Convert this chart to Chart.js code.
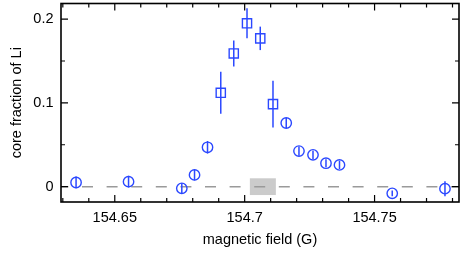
<!DOCTYPE html>
<html>
<head>
<meta charset="utf-8">
<script src="https://cdn.jsdelivr.net/npm/chart.js@4.4.1/dist/chart.umd.min.js"></script>
<style>
  html, body { margin: 0; padding: 0; background: #fff; }
  #c { display: block; }
</style>
</head>
<body>
<canvas id="c" width="463" height="255"></canvas>
<script>
// circles (open) : field, core fraction, error
const circField = [154.6351, 154.6553, 154.6758, 154.6807, 154.6857, 154.7160, 154.7209, 154.7263, 154.7313, 154.7365, 154.7568, 154.7771];
const circFrac  = [0.005, 0.006, -0.002, 0.014, 0.047, 0.076, 0.0425, 0.038, 0.028, 0.026, -0.008, -0.0024];
const circErr   = [0.007, 0.007, 0.006, 0.0065, 0.0075, 0.006, 0.0055, 0.005, 0.0048, 0.005, 0.0035, 0.009];

// squares (open)
const sqField = [154.6908, 154.6958, 154.7009, 154.7060, 154.7109];
const sqFrac  = [0.112, 0.159, 0.195, 0.177, 0.0985];
const sqErr   = [0.025, 0.0155, 0.018, 0.014, 0.028];

// shaded box on the zero line
const boxField = [154.702, 154.712];
const boxFrac  = [-0.01, 0.01];

const xRange = [154.6293, 154.7825];
const yRange = [-0.0183, 0.2186];
const xTicks = [154.65, 154.70, 154.75];
const xMinor = [154.63, 154.64, 154.66, 154.67, 154.68, 154.69, 154.71, 154.72, 154.73, 154.74, 154.76, 154.77, 154.78];
const yTicks = [0, 0.1, 0.2];
const yMinor = [0.05, 0.15];

const blue = '#2b48ff';
const fnt = { family: 'Liberation Sans, Arial, sans-serif', size: 14.5 };

const circData = circField.map((x, i) => ({ x: x, y: circFrac[i], e: circErr[i] }));
const sqData = sqField.map((x, i) => ({ x: x, y: sqFrac[i], e: sqErr[i] }));

const extras = {
  id: 'extras',
  beforeDatasetsDraw(chart) {
    const { ctx, scales: { x, y } } = chart;
    ctx.save();
    ctx.fillStyle = '#cbcbcb';
    const x0 = x.getPixelForValue(boxField[0]), x1 = x.getPixelForValue(boxField[1]);
    const y0 = y.getPixelForValue(boxFrac[1]), y1 = y.getPixelForValue(boxFrac[0]);
    ctx.fillRect(x0, y0, x1 - x0, y1 - y0);
    ctx.restore();
  },
  afterDatasetsDraw(chart) {
    const { ctx, scales: { x, y }, chartArea: a } = chart;
    ctx.save();
    // error bars
    ctx.strokeStyle = blue;
    ctx.lineWidth = 1.5;
    [circData, sqData].forEach(set => {
      set.forEach(p => {
        const px = x.getPixelForValue(p.x);
        ctx.beginPath();
        ctx.moveTo(px, y.getPixelForValue(p.y - p.e));
        ctx.lineTo(px, y.getPixelForValue(p.y + p.e));
        ctx.stroke();
      });
    });
    // frame
    ctx.strokeStyle = '#000';
    ctx.lineWidth = 1.6;
    ctx.strokeRect(a.left, a.top, a.right - a.left, a.bottom - a.top);
    // inward ticks on all sides
    ctx.lineWidth = 1.2;
    const tick = (vals, len) => {
      vals.forEach(v => {
        const px = x.getPixelForValue(v);
        ctx.beginPath();
        ctx.moveTo(px, a.bottom); ctx.lineTo(px, a.bottom - len);
        ctx.moveTo(px, a.top); ctx.lineTo(px, a.top + len);
        ctx.stroke();
      });
    };
    const ytick = (vals, len) => {
      vals.forEach(v => {
        const py = y.getPixelForValue(v);
        ctx.beginPath();
        ctx.moveTo(a.left, py); ctx.lineTo(a.left + len, py);
        ctx.moveTo(a.right, py); ctx.lineTo(a.right - len, py);
        ctx.stroke();
      });
    };
    tick(xTicks, 7); tick(xMinor, 4);
    ytick(yTicks, 7); ytick(yMinor, 4);
    ctx.restore();
  }
};

const chart = new Chart(document.getElementById('c'), {
  type: 'scatter',
  data: {
    datasets: [
      {
        data: circData,
        pointStyle: 'circle',
        pointRadius: 5.2,
        pointBorderWidth: 1.4,
        borderColor: blue,
        backgroundColor: 'rgba(0,0,0,0)',
        order: 1
      },
      {
        data: sqData,
        pointStyle: 'rect',
        pointRadius: 6.5,
        pointBorderWidth: 1.4,
        borderColor: blue,
        backgroundColor: 'rgba(0,0,0,0)',
        order: 1
      },
      {
        type: 'line',
        data: [{ x: xRange[0], y: 0 }, { x: xRange[1], y: 0 }],
        borderColor: '#9a9a9a',
        borderWidth: 1.5,
        borderDash: [11, 13.6],
        borderDashOffset: 3.6,
        pointRadius: 0,
        order: 3
      }
    ]
  },
  options: {
    responsive: false,
    animation: false,
    devicePixelRatio: 1,
    layout: { autoPadding: false, padding: { top: 3.5, right: 4, left: 0, bottom: 0 } },
    plugins: { legend: { display: false }, tooltip: { enabled: false } },
    scales: {
      x: {
        type: 'linear',
        min: xRange[0],
        max: xRange[1],
        grid: { display: false, drawTicks: false },
        border: { display: false },
        afterBuildTicks: s => { s.ticks = xTicks.map(v => ({ value: v })); },
        afterFit: s => { s.height = 53; s.paddingLeft = 0; s.paddingRight = 0; },
        ticks: {
          font: fnt, color: '#000', padding: 7, maxRotation: 0,
          callback: v => String(+v.toFixed(3))
        },
        title: { display: true, text: 'magnetic field (G)', font: fnt, color: '#000', padding: { top: 0, bottom: 6.2 } }
      },
      y: {
        type: 'linear',
        min: yRange[0],
        max: yRange[1],
        grid: { display: false, drawTicks: false },
        border: { display: false },
        afterBuildTicks: s => { s.ticks = yTicks.map(v => ({ value: v })); },
        afterFit: s => { s.width = 61; s.paddingTop = 0; s.paddingBottom = 0; },
        ticks: {
          font: fnt, color: '#000', padding: 7.5,
          callback: v => String(+v.toFixed(2))
        },
        title: { display: true, text: 'core fraction of Li', font: fnt, color: '#000', padding: { top: 8.2, bottom: 0 } }
      }
    }
  },
  plugins: [extras]
});
</script>
</body>
</html>
